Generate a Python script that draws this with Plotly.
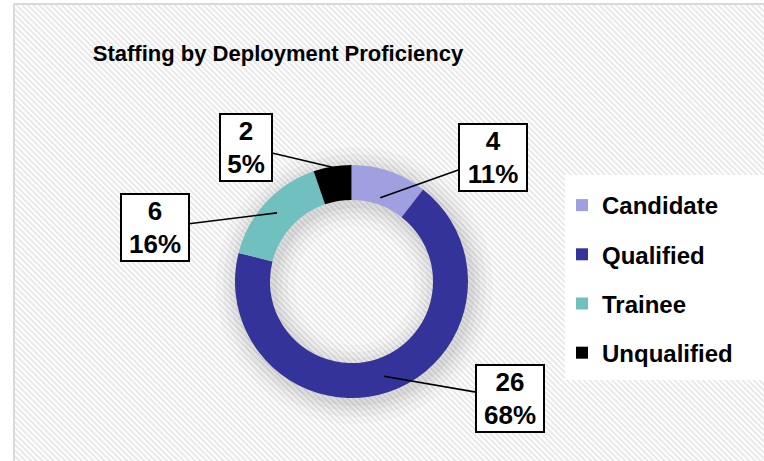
import math, base64
import plotly.graph_objects as go

# ---- data ----
categories = ["Candidate", "Qualified", "Trainee", "Unqualified"]
values = [4, 26, 6, 2]
colors = ["#A0A0E0", "#333399", "#70C0C0", "#000000"]
title_text = "Staffing by Deployment Proficiency"

W, H = 764, 461
# donut geometry (pixels)
CX, CY, R = 351.5, 281.5, 116.5
HOLE = 0.70

def px(x):
    return x / W

def py(y):
    return 1 - y / H

fig = go.Figure()

# soft shadow layers behind the donut
for d, a in [(22, 0.025), (15, 0.03), (9, 0.035), (4, 0.04)]:
    ro = R + d
    ri = R * HOLE - d
    cx, cy = CX + 3, CY + 4
    fig.add_trace(go.Pie(
        values=[1], labels=["s"], hole=ri / ro, sort=False,
        marker=dict(colors=[f"rgba(0,0,0,{a})"], line=dict(width=0)),
        textinfo="none", hoverinfo="skip", showlegend=False,
        domain=dict(x=[px(cx - ro), px(cx + ro)], y=[py(cy + ro), py(cy - ro)]),
    ))

fig.add_trace(go.Pie(
    labels=categories, values=values, hole=HOLE, sort=False,
    direction="clockwise", rotation=0,
    marker=dict(colors=colors, line=dict(width=0)),
    textinfo="none", showlegend=False,
    domain=dict(x=[px(CX - R), px(CX + R)], y=[py(CY + R), py(CY - R)]),
))

# legend entries
for c, col in zip(categories, colors):
    fig.add_trace(go.Scatter(
        x=[None], y=[None], mode="markers", name=c, legendgroup=c,
        marker=dict(symbol="square", size=12, color=col),
    ))

# callout labels
total = sum(values)
box_centers = [(493, 157.5), (510, 398), (155, 228), (246, 147)]
tip_r = [0.76, 0.86, 0.87, 0.995]
cum = 0
for cat, v, (bx, by), rf in zip(categories, values, box_centers, tip_r):
    mid = (cum + v / 2) / total * 2 * math.pi
    cum += v
    tx = CX + rf * R * math.sin(mid)
    ty = CY - rf * R * math.cos(mid)
    pct = f"{round(v / total * 100)}%"
    fig.add_annotation(
        x=px(tx), y=py(ty), xref="paper", yref="paper",
        ax=bx - tx, ay=by - ty,
        text=f"{v}<br>{pct}", showarrow=True, arrowhead=0, arrowwidth=1.6,
        arrowcolor="black", standoff=0,
        font=dict(family="Liberation Sans, Arial", size=26, color="black", weight="bold"),
        bgcolor="white", bordercolor="black", borderwidth=2, borderpad=0,
        width=16 * len(pct) + 18, height=65, align="center",
    )

# hatched background
svg = (
    "<svg xmlns='http://www.w3.org/2000/svg' width='749' height='456'>"
    "<defs><pattern id='p' width='4' height='4' patternUnits='userSpaceOnUse' "
    "patternTransform='rotate(-45)'><rect width='4' height='4' fill='white'/>"
    "<rect width='2' height='4' fill='#e9e9e9'/></pattern></defs>"
    "<rect width='100%' height='100%' fill='url(#p)'/></svg>"
)
src = "data:image/svg+xml;base64," + base64.b64encode(svg.encode()).decode()
fig.add_layout_image(dict(
    source=src, xref="paper", yref="paper", x=px(15), y=py(5),
    sizex=px(764) - px(15), sizey=py(5), sizing="stretch",
    xanchor="left", yanchor="top", layer="below",
))

shapes = [
    dict(type="rect", xref="paper", yref="paper", x0=px(565), x1=1.0,
         y0=py(380), y1=py(175), fillcolor="white", line=dict(width=0), layer="below"),
    dict(type="line", xref="paper", yref="paper", x0=px(14), x1=1.0,
         y0=py(4), y1=py(4), line=dict(color="#d9d9d9", width=2)),
    dict(type="line", xref="paper", yref="paper", x0=px(14), x1=px(14),
         y0=py(4), y1=0, line=dict(color="#d9d9d9", width=2)),
]

fig.update_layout(
    width=W, height=H,
    margin=dict(l=0, r=0, t=0, b=0),
    paper_bgcolor="white", plot_bgcolor="rgba(0,0,0,0)",
    xaxis=dict(visible=False), yaxis=dict(visible=False),
    title=dict(text=title_text, x=px(278), xanchor="center", y=py(53), yanchor="middle",
               font=dict(family="Liberation Sans, Arial", size=22,
                         color="black", weight="bold")),
    legend=dict(x=px(562), y=py(183), xanchor="left", yanchor="top",
                bgcolor="rgba(0,0,0,0)", traceorder="grouped", tracegroupgap=15,
                font=dict(family="Liberation Sans, Arial", size=24, color="black", weight="bold")),
    shapes=shapes,
    showlegend=True,
)

fig.write_html(
    "out.html",
    config={"displayModeBar": False},
    post_script="document.body.style.margin='0';document.body.style.overflow='hidden';",
)
